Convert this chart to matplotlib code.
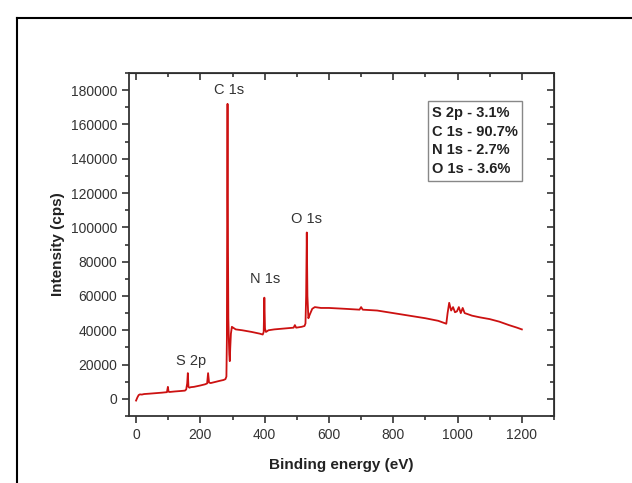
import matplotlib.pyplot as plt
from matplotlib.lines import Line2D
from matplotlib.ticker import MultipleLocator

plt.rcParams['font.family'] = ['Liberation Sans', 'DejaVu Sans']

# XPS survey spectrum
energy = [0, 4, 8, 12, 18, 25, 40, 60, 80, 96, 99, 101, 104, 120, 140, 152,
          156, 159, 161, 163, 166, 170, 180, 200, 215, 221, 224, 227, 232, 245,
          260, 272, 278, 281, 282.5, 283.5, 284.5, 285.3, 286, 287, 288.5, 290,
          291.5, 293, 295, 298, 302, 310, 330, 360, 385, 394, 397, 399, 401,
          404, 412, 430, 460, 490, 494, 498, 515, 524, 527, 529, 531, 533, 536,
          540, 548, 556, 575, 600, 650, 695, 700, 705, 750, 800, 850, 900, 940,
          965, 969, 974, 980, 986, 992, 998, 1004, 1010, 1016, 1022, 1030,
          1045, 1070, 1100, 1130, 1160, 1185, 1200]
intensity = [-1000, 800, 2200, 2600, 2500, 2800, 3000, 3300, 3600, 3900, 7000,
             4200, 4000, 4300, 4600, 4800, 5500, 9000, 15000, 7000, 6500,
             6800, 7000, 7800, 8500, 9000, 15000, 9500, 9200, 9800, 10500,
             11000, 11500, 13000, 35000, 118000, 172000, 118000, 85000, 47000,
             35000, 26000, 22000, 30000, 38000, 42000, 41500, 40500, 40000,
             39000, 38000, 37500, 39000, 59000, 41000, 39000, 40000, 40500,
             41000, 41500, 43000, 41500, 42000, 42500, 44000, 60000, 97000,
             60000, 47000, 49000, 52500, 53500, 53000, 53000, 52500, 52000,
             53500, 52000, 51500, 50000, 48500, 47000, 45500, 43800, 50000,
             56000, 51500, 53500, 50500, 51000, 53500, 50000, 53000, 50000,
             49500, 48500, 47500, 46500, 45000, 43000, 41500, 40500]

peak_labels = ['C 1s', 'O 1s', 'N 1s', 'S 2p']
peak_x = [290, 529, 400, 170]
peak_y = [176000, 101000, 66000, 18000]

composition = ['S 2p - 3.1%', 'C 1s - 90.7%', 'N 1s - 2.7%', 'O 1s - 3.6%']

fig = plt.figure(figsize=(6.32, 4.83), dpi=100)
ax = fig.add_axes([129 / 632, 1 - 416 / 483, (554 - 129) / 632, (416 - 73) / 483])

ax.plot(energy, intensity, color='#cc1111', lw=1.3)

ax.set_xlim(-22, 1300)
ax.set_ylim(-10000, 190000)
ax.xaxis.set_major_locator(MultipleLocator(200))
ax.xaxis.set_minor_locator(MultipleLocator(100))
ax.yaxis.set_major_locator(MultipleLocator(20000))
ax.yaxis.set_minor_locator(MultipleLocator(10000))
ax.tick_params(which='both', direction='out', colors='#333333', labelsize=10,
               width=1.2)
ax.tick_params(which='major', length=5)
ax.tick_params(which='minor', length=3)
for s in ax.spines.values():
    s.set_color('#333333')
    s.set_linewidth(1.3)

# mirrored inward ticks on top and right
top = ax.secondary_xaxis('top')
top.xaxis.set_major_locator(MultipleLocator(200))
top.xaxis.set_minor_locator(MultipleLocator(100))
top.tick_params(which='both', direction='in', labeltop=False, colors='#333333', width=1.2)
top.tick_params(which='major', length=5)
top.tick_params(which='minor', length=3)
right = ax.secondary_yaxis('right')
right.yaxis.set_major_locator(MultipleLocator(20000))
right.yaxis.set_minor_locator(MultipleLocator(10000))
right.tick_params(which='both', direction='in', labelright=False, colors='#333333', width=1.2)
right.tick_params(which='major', length=5)
right.tick_params(which='minor', length=3)

ax.set_xlabel('Binding energy (eV)', fontsize=11, fontweight='bold', color='#222222', labelpad=12)
ax.set_ylabel('Intensity (cps)', fontsize=11, fontweight='bold', color='#222222', labelpad=4)

for lab, x, y in zip(peak_labels, peak_x, peak_y):
    ax.text(x, y, lab, fontsize=10.5, color='#333333', ha='center', va='bottom')

ax.text(0.713, 0.905, '\n'.join(composition), transform=ax.transAxes,
        fontsize=10.5, fontweight='bold', color='#222222', va='top', ha='left',
        linespacing=1.45,
        bbox=dict(boxstyle='square,pad=0.3', fc='white', ec='#888888', lw=1))

# outer frame (left and top edges)
fig.add_artist(Line2D([17 / 632, 17 / 632], [0, 1 - 18 / 483], color='black', lw=1.5))
fig.add_artist(Line2D([17 / 632, 1], [1 - 18 / 483, 1 - 18 / 483], color='black', lw=1.5))

fig.savefig('out.png', dpi=100)
